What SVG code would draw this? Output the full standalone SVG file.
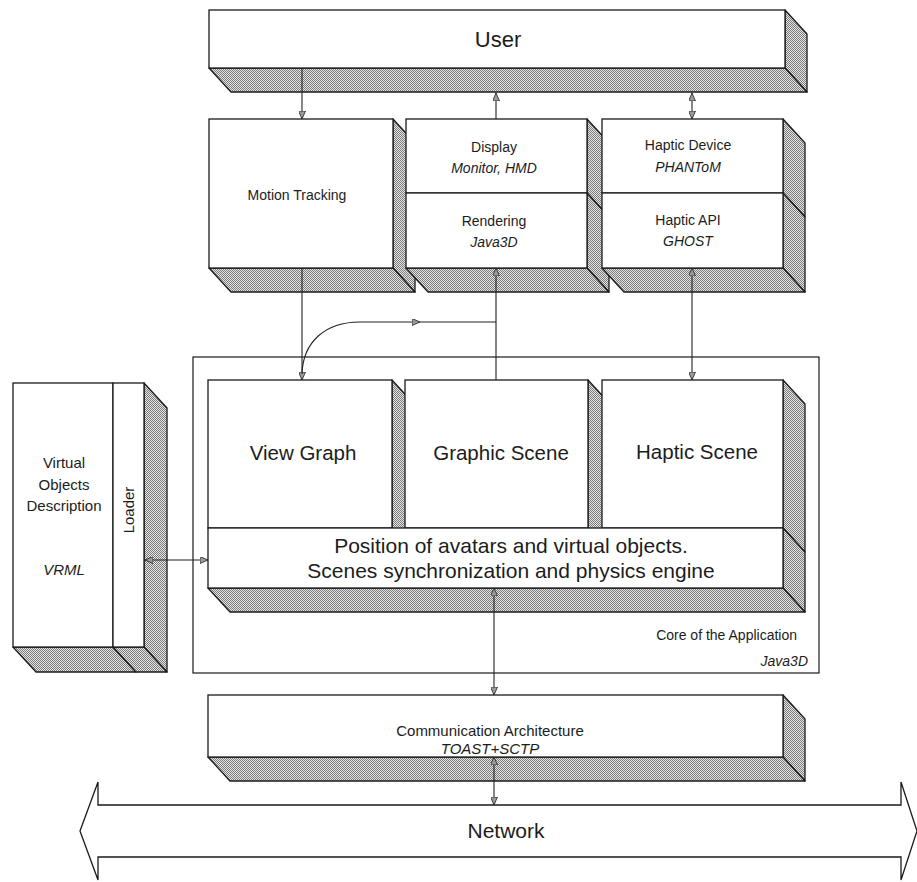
<svg xmlns="http://www.w3.org/2000/svg" width="917" height="882" viewBox="0 0 917 882">
  <defs>
    <!-- fine dithered grey used on the side and bottom faces of the blocks -->
    <pattern id="hatch" width="2" height="2" patternUnits="userSpaceOnUse">
      <rect width="2" height="2" fill="#e4e4e4"/>
      <rect width="1" height="1" fill="#7c7c7c"/>
      <rect x="1" y="1" width="1" height="1" fill="#7c7c7c"/>
    </pattern>
    <marker id="head" viewBox="0 0 8 7" refX="8" refY="3.5" markerWidth="8" markerHeight="7" markerUnits="userSpaceOnUse" orient="auto-start-reverse">
      <path d="M0,0 L8,3.5 L0,7 Z" fill="#9a9a9a" stroke="#222" stroke-width="0.8"/>
    </marker>
    <style>
      .front { fill: #fff; stroke: #1a1a1a; stroke-width: 1.3; }
      .side { fill: url(#hatch); stroke: #1a1a1a; stroke-width: 1.3; stroke-linejoin: round; }
      .frame { fill: none; stroke: #1a1a1a; stroke-width: 1.2; }
      .link { fill: none; stroke: #222; stroke-width: 1.1; }
      text { font-family: "Liberation Sans", Arial, sans-serif; fill: #1c1c1c; }
      .s { font-size: 14px; }
      .m { font-size: 15px; }
      .l { font-size: 20.5px; }
      .xl { font-size: 21px; }
      .i { font-style: italic; }
      .c { text-anchor: middle; }
      .r { text-anchor: end; }
    </style>
  </defs>

  <!-- core of the application frame -->
  <g id="core">
    <rect class="frame" x="193" y="357" width="626" height="316"/>
    <text class="s r" x="797" y="640">Core of the Application</text>
    <text class="s r i" x="808" y="666">Java3D</text>
  </g>

  <g id="user">
    <polygon class="side" points="785,10 807,34 807,92 785,68"/>
    <polygon class="side" points="209,68 785,68 807,92 231,92"/>
    <rect class="front" x="209" y="10" width="576" height="58"/>
    <text class="c" x="498" y="47" style="font-size:22px">User</text>
  </g>

  <g id="motion-tracking">
    <polygon class="side" points="393,119 415,143 415,292 393,268"/>
    <polygon class="side" points="209,268 393,268 415,292 231,292"/>
    <rect class="front" x="209" y="119" width="184" height="149"/>
    <text class="s c" x="297" y="200">Motion Tracking</text>
  </g>

  <g id="display">
    <polygon class="side" points="587,119 609,143 609,217 587,193"/>
    <rect class="front" x="406" y="119" width="181" height="74"/>
    <text class="s c" x="494" y="152">Display</text>
    <text class="s c i" x="494" y="173">Monitor, HMD</text>
  </g>

  <g id="rendering">
    <polygon class="side" points="587,193 609,217 609,292 587,268"/>
    <polygon class="side" points="406,268 587,268 609,292 428,292"/>
    <rect class="front" x="406" y="193" width="181" height="75"/>
    <text class="s c" x="494" y="226">Rendering</text>
    <text class="s c i" x="494" y="247">Java3D</text>
  </g>

  <g id="haptic-device">
    <polygon class="side" points="783,119 805,143 805,217 783,193"/>
    <rect class="front" x="602" y="119" width="181" height="74"/>
    <text class="s c" x="688" y="150">Haptic Device</text>
    <text class="s c i" x="688" y="172">PHANToM</text>
  </g>

  <g id="haptic-api">
    <polygon class="side" points="783,193 805,217 805,292 783,268"/>
    <polygon class="side" points="602,268 783,268 805,292 624,292"/>
    <rect class="front" x="602" y="193" width="181" height="75"/>
    <text class="s c" x="688" y="225">Haptic API</text>
    <text class="s c i" x="688" y="246">GHOST</text>
  </g>

  <g id="view-graph">
    <polygon class="side" points="392,380 414,404 414,552 392,528"/>
    <rect class="front" x="208" y="380" width="184" height="148"/>
    <text class="l c" x="303" y="460">View Graph</text>
  </g>

  <g id="graphic-scene">
    <polygon class="side" points="588,380 610,404 610,552 588,528"/>
    <rect class="front" x="405" y="380" width="183" height="148"/>
    <text class="l c" x="501" y="460">Graphic Scene</text>
  </g>

  <g id="haptic-scene">
    <polygon class="side" points="783,380 805,404 805,552 783,528"/>
    <rect class="front" x="602" y="380" width="181" height="148"/>
    <text class="l c" x="697" y="459">Haptic Scene</text>
  </g>

  <g id="scene-sync">
    <polygon class="side" points="783,528 805,552 805,612 783,588"/>
    <polygon class="side" points="208,588 783,588 805,612 230,612"/>
    <rect class="front" x="208" y="528" width="575" height="60"/>
    <text class="xl c" x="511" y="553">Position of avatars and virtual objects.</text>
    <text class="xl c" x="511" y="578">Scenes synchronization and physics engine</text>
  </g>

  <g id="objects-description">
    <polygon class="side" points="13,647 113,647 136,672 36,672"/>
    <rect class="front" x="13" y="383" width="100" height="264"/>
    <text class="m c" x="64" y="468">Virtual</text>
    <text class="m c" x="64" y="490">Objects</text>
    <text class="m c" x="64" y="511">Description</text>
    <text class="m c i" x="64" y="575">VRML</text>
  </g>

  <g id="loader">
    <polygon class="side" points="144,383 167,408 167,672 144,647"/>
    <polygon class="side" points="113,647 144,647 167,672 136,672"/>
    <rect class="front" x="113" y="383" width="31" height="264"/>
    <text class="m c" transform="translate(134,510) rotate(-90)">Loader</text>
  </g>

  <g id="communication">
    <polygon class="side" points="783,695 805,719 805,781 783,757"/>
    <polygon class="side" points="208,757 783,757 805,781 230,781"/>
    <rect class="front" x="208" y="695" width="575" height="62"/>
    <text class="m c" x="490" y="736">Communication Architecture</text>
    <text class="m c i" x="490" y="754">TOAST+SCTP</text>
  </g>

  <g id="network">
    <polygon class="front" points="80,831 98,782 98,805 901,805 901,782 917,831 901,880 901,857 98,857 98,880"/>
    <text class="xl c" x="506" y="838">Network</text>
  </g>

  <g id="connectors">
    <!-- user <-> devices -->
    <line class="link" x1="302" y1="68" x2="302" y2="119" marker-end="url(#head)"/>
    <line class="link" x1="496" y1="119" x2="496" y2="93" marker-end="url(#head)"/>
    <line class="link" x1="692" y1="93" x2="692" y2="119" marker-start="url(#head)" marker-end="url(#head)"/>
    <!-- devices <-> scenes -->
    <line class="link" x1="302" y1="268" x2="302" y2="380" marker-end="url(#head)"/>
    <line class="link" x1="496" y1="380" x2="496" y2="268" marker-end="url(#head)"/>
    <line class="link" x1="692" y1="268" x2="692" y2="380" marker-start="url(#head)" marker-end="url(#head)"/>
    <!-- view graph feed towards rendering -->
    <path class="link" d="M302,374 C303,342 325,322 360,322 L420,322" marker-end="url(#head)"/>
    <line class="link" x1="420" y1="322" x2="496" y2="322"/>
    <!-- loader <-> core -->
    <line class="link" x1="145" y1="560" x2="208" y2="560" marker-start="url(#head)" marker-end="url(#head)"/>
    <!-- core <-> communication <-> network -->
    <line class="link" x1="494" y1="588" x2="494" y2="695" marker-start="url(#head)" marker-end="url(#head)"/>
    <line class="link" x1="494" y1="757" x2="494" y2="805" marker-start="url(#head)" marker-end="url(#head)"/>
  </g>
</svg>
